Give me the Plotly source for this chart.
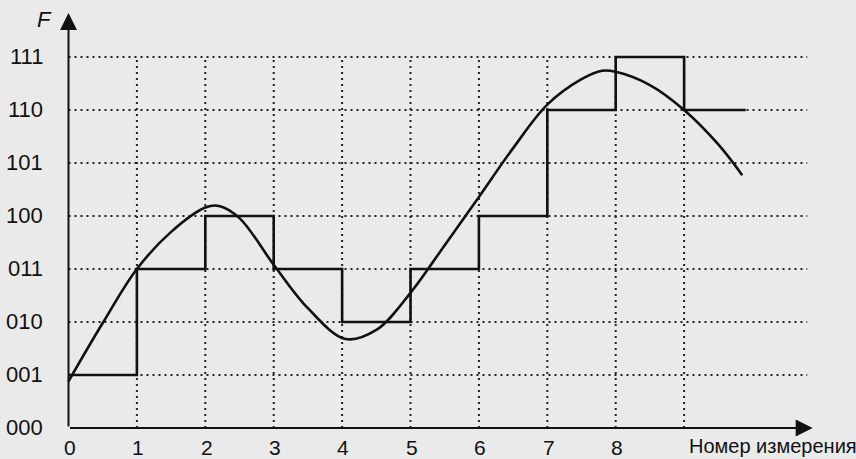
import plotly.graph_objects as go

# ---- data ----
x_ticks = [0, 1, 2, 3, 4, 5, 6, 7, 8]
x_tick_labels = ["0", "1", "2", "3", "4", "5", "6", "7", "8"]
y_levels = [0, 1, 2, 3, 4, 5, 6, 7]
y_tick_labels = ["000", "001", "010", "011", "100", "101", "110", "111"]
grid_x = [1, 2, 3, 4, 5, 6, 7, 8, 9]
grid_y = [1, 2, 3, 4, 5, 6, 7]

step_x = [0, 1, 2, 3, 4, 5, 6, 7, 8, 9, 9.9]
step_y = [1, 3, 4, 3, 2, 3, 4, 6, 7, 6, 6]

curve_x = [0, 0.5, 1.0, 1.5, 2.0, 2.2, 2.5, 3.0, 3.5, 4.05, 4.5, 5.0, 5.5, 6.0, 6.5, 7.0, 7.5, 7.8, 8.0, 8.5, 9.0, 9.5, 9.85]
curve_y = [0.88, 1.98, 3.0, 3.7, 4.16, 4.19, 3.96, 3.08, 2.26, 1.68, 1.85, 2.55, 3.45, 4.36, 5.28, 6.1, 6.58, 6.74, 6.72, 6.47, 6.0, 5.35, 4.77]

x_arrow_end = 10.88
y_arrow_end = 7.83
grid_x_end = 10.8
x_title = "Номер измерения"
y_title = "F"

FONT = "Liberation Sans, Arial, sans-serif"
INK = "#111111"
BG = "#eaeaea"

fig = go.Figure()

shapes = []
for gy in grid_y:
    shapes.append(dict(type="line", xref="x", yref="y", x0=0, x1=grid_x_end, y0=gy, y1=gy,
                       line=dict(color="#222222", width=2, dash="2px,4px"), layer="below"))
for gx in grid_x:
    shapes.append(dict(type="line", xref="x", yref="y", x0=gx, x1=gx, y0=0, y1=max(grid_y),
                       line=dict(color="#222222", width=2, dash="2px,4px"), layer="below"))

fig.add_trace(go.Scatter(x=step_x, y=step_y, mode="lines", line=dict(shape="hv", color=INK, width=2.6),
                         hoverinfo="skip", showlegend=False))
fig.add_trace(go.Scatter(x=curve_x, y=curve_y, mode="lines",
                         line=dict(shape="spline", smoothing=1.0, color=INK, width=2.6),
                         hoverinfo="skip", showlegend=False))

annotations = []
# axes with arrows
annotations.append(dict(x=x_arrow_end, y=0, ax=0, ay=0, xref="x", yref="y", axref="x", ayref="y",
                        showarrow=True, arrowhead=2, arrowsize=1.7, arrowwidth=2, arrowcolor=INK, text=""))
annotations.append(dict(x=0, y=y_arrow_end, ax=0, ay=0, xref="x", yref="y", axref="x", ayref="y",
                        showarrow=True, arrowhead=2, arrowsize=1.7, arrowwidth=2, arrowcolor=INK, text=""))

for lv, lab in zip(y_levels, y_tick_labels):
    annotations.append(dict(x=-0.35, y=lv, xref="x", yref="y", text=lab, showarrow=False,
                            xanchor="right", yanchor="middle", font=dict(family=FONT, size=22, color=INK)))
for xv, lab in zip(x_ticks, x_tick_labels):
    annotations.append(dict(x=xv + 0.02, y=-0.36, xref="x", yref="y", text=lab, showarrow=False,
                            xanchor="center", yanchor="middle", font=dict(family=FONT, size=21, color=INK)))
annotations.append(dict(x=9.04, y=-0.34, xref="x", yref="y", text=x_title, showarrow=False,
                        xanchor="left", yanchor="middle", font=dict(family=FONT, size=20, color=INK)))
annotations.append(dict(x=-0.344, y=7.7, xref="x", yref="y", text="<i>" + y_title + "</i>", showarrow=False,
                        xanchor="center", yanchor="middle", font=dict(family=FONT, size=22, color=INK)))

fig.update_layout(
    width=856, height=459, autosize=False,
    margin=dict(l=0, r=0, t=0, b=0, pad=0),
    paper_bgcolor=BG, plot_bgcolor=BG,
    shapes=shapes, annotations=annotations,
    xaxis=dict(range=[-1.0015, 11.513], visible=False, fixedrange=True),
    yaxis=dict(range=[-0.585, 8.075], visible=False, fixedrange=True),
)

fig.write_html("out.html",
               post_script="document.body.style.margin='0px';document.body.style.overflow='hidden';",
               config={"displayModeBar": False})
